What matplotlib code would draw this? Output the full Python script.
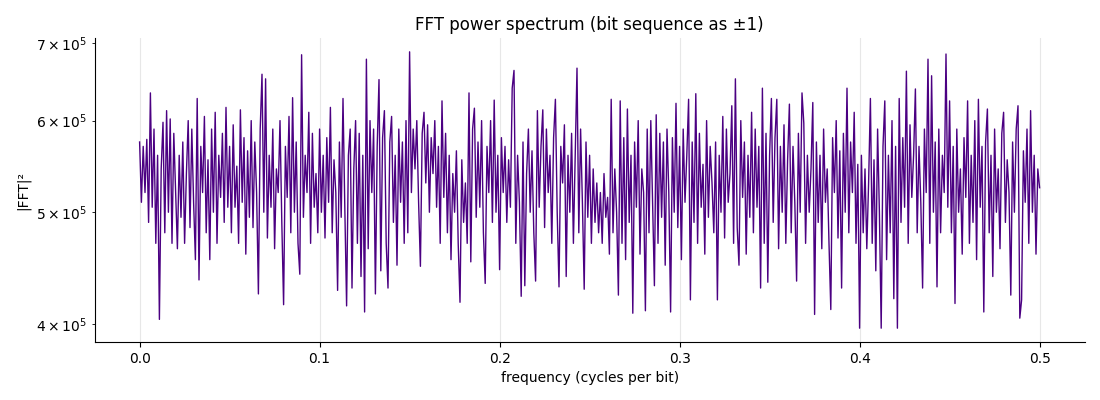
import numpy as np
import matplotlib
matplotlib.use("Agg")
import matplotlib.pyplot as plt

# power values, in thousands (|FFT|^2 / 1e3)
power_k = [
    575, 510, 570, 520, 578, 490, 634, 505, 590, 470, 560, 404, 545, 598, 480, 612, 500, 602, 470, 585,
    520, 465, 560, 495, 575, 470, 540, 600, 485, 590, 510, 455, 627, 437, 570, 520, 605, 480, 555, 455,
    590, 500, 610, 470, 560, 515, 585, 490, 616, 505,
    570, 480, 595, 505, 548, 470, 613, 510, 580, 460, 565, 495, 600, 485, 575, 520, 425, 590, 658, 500,
    652, 475, 560, 505, 590, 465, 545, 520, 600, 490, 416, 570, 515, 605, 480, 628, 500, 575, 470, 442,
    684, 495, 560, 520, 610, 470, 585, 505, 540, 480,
    590, 500, 560, 475, 580, 510, 616, 480, 555, 520, 428, 575, 495, 627, 505, 415, 560, 590, 430, 545,
    600, 470, 585, 440, 560, 410, 678, 465, 600, 520, 590, 425, 570, 651, 445, 580, 612, 470, 430, 575,
    605, 490, 560, 450, 590, 510, 575, 470, 600, 480,
    688, 520, 590, 545, 600, 510, 449, 585, 610, 530, 595, 500, 580, 540, 600, 505, 570, 470, 624, 515,
    585, 480, 560, 455, 540, 500, 565, 470, 418, 555, 490, 530, 470, 634, 453, 590, 615, 495, 575, 505,
    600, 480, 434, 570, 520, 600, 490, 625, 500, 560,
    446, 580, 520, 570, 490, 555, 505, 640, 663, 470, 560, 510, 423, 575, 432, 540, 590, 500, 565, 480,
    436, 612, 505, 570, 613, 485, 590, 520, 560, 470, 580, 626, 500, 431, 570, 530, 595, 440, 560, 500,
    585, 470, 560, 666, 480, 590, 510, 429, 575, 495,
    560, 470, 545, 490, 530, 480, 520, 470, 540, 495, 515, 460, 626, 480, 545, 500, 424, 624, 470, 580,
    455, 614, 490, 560, 409, 575, 505, 600, 460, 545, 520, 411, 590, 480, 600, 510, 432, 607, 470, 585,
    495, 575, 450, 590, 520, 410, 580, 500, 621, 485,
    570, 455, 590, 510, 560, 626, 420, 575, 490, 633, 470, 585, 505, 550, 460, 600, 495, 570, 530, 480,
    575, 420, 560, 500, 605, 475, 590, 510, 540, 618, 470, 652, 485, 450, 600, 515, 575, 460, 560, 495,
    610, 480, 590, 505, 570, 430, 640, 470, 585, 435,
    560, 627, 490, 580, 626, 465, 570, 500, 595, 470, 555, 620, 480, 570, 510, 436, 585, 500, 634, 597,
    470, 560, 500, 545, 622, 408, 575, 490, 560, 465, 590, 510, 545, 470, 412, 580, 520, 600, 475, 565,
    430, 585, 500, 640, 480, 575, 520, 610, 470, 550,
    397, 560, 480, 545, 465, 530, 627, 470, 555, 445, 590, 500, 397, 570, 624, 455, 560, 480, 600, 421,
    570, 397, 627, 490, 580, 505, 662, 470, 595, 515, 560, 639, 480, 570, 510, 430, 590, 520, 678, 470,
    656, 500, 575, 431, 590, 480, 560, 520, 685, 505,
    624, 480, 570, 417, 590, 500, 545, 460, 580, 515, 624, 470, 560, 490, 600, 455, 626, 505, 570, 410,
    575, 614, 480, 560, 440, 590, 500, 545, 465, 585, 610, 490, 555, 520, 424, 575, 500, 590, 618, 405,
    420, 565, 510, 590, 470, 612, 500, 560, 460, 545, 525,
]

power = np.array(power_k) * 1e3
freqs = np.arange(len(power)) / (2.0 * (len(power) - 1))  # 0 .. 0.5 cycles per bit

fig, ax = plt.subplots(figsize=(11, 4), dpi=100)
ax.plot(freqs, power, color='indigo', linewidth=1.0)
ax.set_yscale('log')

ax.set_title('FFT power spectrum (bit sequence as ±1)', fontsize=12)
ax.set_xlabel('frequency (cycles per bit)')
ax.set_ylabel('|FFT|²')
ax.grid(axis='x', alpha=0.3)
ax.spines['top'].set_visible(False)
ax.spines['right'].set_visible(False)

plt.subplots_adjust(left=0.086, right=0.986, top=0.905, bottom=0.145)
plt.savefig('out.png')
